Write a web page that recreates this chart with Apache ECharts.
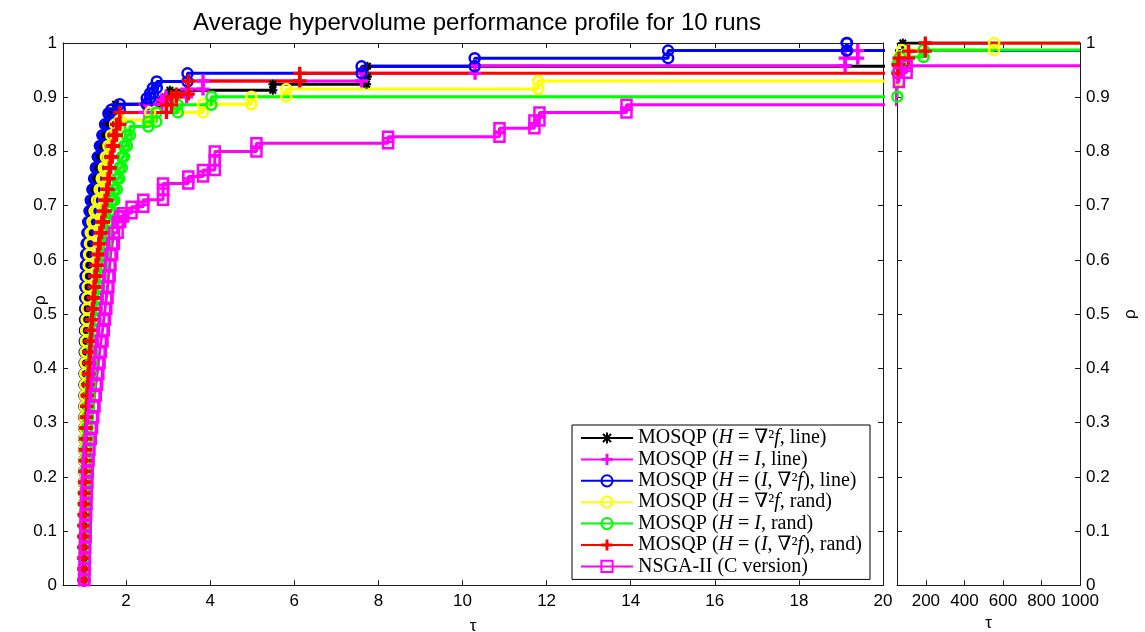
<!DOCTYPE html>
<html>
<head>
<meta charset="utf-8">
<script src="https://cdn.jsdelivr.net/npm/echarts@6/dist/echarts.min.js"></script>
<style>
  html, body { margin: 0; padding: 0; background: #fff; }
  #chart { width: 1145px; height: 632px; }
</style>
</head>
<body>
<div id="chart"></div>
<script>
// Performance profile: fraction of problems (rho) solved within a factor tau of the best.

// Step levels shared by the dense part of every profile (near tau = 1).
const rhoGrid = [0.01,0.03,0.05,0.07,0.09,0.11,0.13,0.15,0.17,0.19,0.21,0.23,0.25,0.27,0.29,0.31,0.33,0.35,0.37,0.39,0.41,0.43,0.45,0.47,0.49,0.51,0.53,0.55,0.57,0.59,0.61,0.63,0.65,0.67,0.69,0.71,0.73,0.75,0.77,0.79,0.81,0.83,0.85,0.87];

// tau at which each level of rhoGrid is reached (dense part), one list per solver.
const tauBlackLine = [1.00,1.00,1.00,1.00,1.00,1.00,1.00,1.00,1.00,1.00,
  1.005,1.005,1.005,1.01,1.01,1.01,1.01,1.015,1.015,1.015,
  1.02,1.02,1.02,1.02,1.02,1.025,1.025,1.03,1.03,1.035,
  1.04,1.05,1.07,1.09,1.11,1.14,1.17,1.21,1.25,1.29,
  1.34,1.40,1.47,1.56];
const tauMagentaLine = [1.00,1.00,1.00,1.00,1.00,1.00,1.005,1.01,1.01,1.015,
  1.02,1.025,1.03,1.035,1.04,1.05,1.06,1.07,1.085,1.10,
  1.12,1.135,1.15,1.165,1.18,1.20,1.22,1.24,1.26,1.29,
  1.32,1.35,1.38,1.42,1.46,1.50,1.54,1.57,1.60,1.63,
  1.67,1.71,1.77];
const tauBlueLine = [1.00,1.00,1.00,1.00,1.00,1.00,1.00,1.00,1.00,1.00,
  1.005,1.005,1.005,1.01,1.01,1.01,1.01,1.015,1.015,1.015,
  1.02,1.02,1.02,1.025,1.025,1.03,1.03,1.035,1.04,1.045,
  1.05,1.06,1.08,1.10,1.13,1.16,1.20,1.24,1.28,1.33,
  1.38,1.44,1.50,1.58];
const tauYellowRand = [1.00,1.00,1.00,1.00,1.00,1.00,1.00,1.00,1.005,1.005,
  1.01,1.01,1.01,1.015,1.015,1.02,1.02,1.025,1.03,1.03,
  1.035,1.04,1.045,1.05,1.06,1.07,1.08,1.09,1.10,1.11,
  1.12,1.14,1.16,1.20,1.25,1.31,1.37,1.42,1.47,1.52,
  1.58,1.65,1.74];
const tauGreenRand = [1.00,1.00,1.00,1.00,1.00,1.005,1.01,1.015,1.02,1.03,
  1.035,1.045,1.05,1.06,1.07,1.08,1.10,1.12,1.13,1.15,
  1.16,1.18,1.20,1.22,1.25,1.28,1.31,1.34,1.37,1.41,
  1.44,1.48,1.52,1.56,1.61,1.66,1.72,1.78,1.84,1.90,
  1.95,2.02];
const tauRedRand = [1.00,1.00,1.00,1.00,1.00,1.00,1.005,1.01,1.01,1.015,
  1.02,1.025,1.03,1.035,1.04,1.05,1.06,1.07,1.085,1.10,
  1.12,1.135,1.15,1.165,1.18,1.20,1.22,1.24,1.26,1.29,
  1.32,1.35,1.38,1.42,1.46,1.50,1.54,1.57,1.60,1.63,
  1.67,1.71,1.77];
const tauNsga = [1.00,1.01,1.02,1.02,1.03,1.04,1.04,1.05,1.06,1.07,
  1.08,1.09,1.11,1.13,1.16,1.19,1.22,1.25,1.28,1.31,
  1.34,1.37,1.40,1.44,1.47,1.50,1.53,1.56,1.58,1.61,
  1.63,1.67,1.71,1.80];

// Later steps as [tau, rho] pairs.
const tailBlackLine = [[1.75,0.887],[2.8,0.895],[2.93,0.901],[3.04,0.913],[5.49,0.924],[7.72,0.938],[7.74,0.957],[80,1.0]];
const tailMagentaLine = [[1.85,0.872],[2.45,0.887],[2.85,0.895],[2.95,0.901],[3.44,0.915],[3.83,0.93],[7.6,0.944],[10.3,0.958],[19.1,0.972],[19.4,0.986]];
const tailBlueLine = [[1.65,0.877],[1.85,0.887],[2.49,0.898],[2.57,0.907],[2.64,0.917],[2.73,0.929],[3.46,0.944],[7.6,0.957],[10.29,0.972],[14.89,0.986],[19.14,1.0],[19.14,0.986]];
const tailYellowRand = [[1.85,0.858],[2.57,0.872],[3.83,0.887],[4.98,0.901],[5.81,0.915],[11.8,0.930],[62,0.975],[76,0.987],[554,1.0]];
const tailGreenRand = [[2.09,0.846],[2.53,0.855],[2.72,0.872],[3.23,0.886],[4.03,0.901],[52,0.945],[54,0.961],[67,0.974],[188,0.987]];
const tailRedRand = [[1.85,0.872],[2.96,0.886],[3.08,0.901],[3.2,0.906],[3.48,0.930],[6.13,0.944],[55,0.96],[60,0.972],[110,0.985],[197,1.0]];
const tailNsga = [[1.86,0.68],[1.93,0.686],[2.13,0.698],[2.41,0.711],[2.88,0.729],[2.88,0.741],[3.48,0.754],[3.83,0.766],[4.11,0.784],[4.11,0.80],[5.1,0.815],[8.23,0.827],[10.88,0.843],[11.71,0.857],[11.83,0.872],[13.9,0.886],[45,0.928],[60,0.945],[100,0.958]];

const solverNames = [
  'MOSQP (H = ∇²f, line)',
  'MOSQP (H = I, line)',
  'MOSQP (H = (I, ∇²f), line)',
  'MOSQP (H = ∇²f, rand)',
  'MOSQP (H = I, rand)',
  'MOSQP (H = (I, ∇²f), rand)',
  'NSGA-II (C version)'
];

// Axis ticks
const xTicksLeft = [2,4,6,8,10,12,14,16,18,20];
const xTicksRight = [200,400,600,800,1000];

const TAU_END = 1000;

// Legend labels with italic math symbols
const legendRich = {
  'MOSQP (H = ∇²f, line)': 'MOSQP ({i|H} = ∇²{i|f}, line)',
  'MOSQP (H = I, line)': 'MOSQP ({i|H} = {i|I}, line)',
  'MOSQP (H = (I, ∇²f), line)': 'MOSQP ({i|H} = ({i|I}, ∇²{i|f}), line)',
  'MOSQP (H = ∇²f, rand)': 'MOSQP ({i|H} = ∇²{i|f}, rand)',
  'MOSQP (H = I, rand)': 'MOSQP ({i|H} = {i|I}, rand)',
  'MOSQP (H = (I, ∇²f), rand)': 'MOSQP ({i|H} = ({i|I}, ∇²{i|f}), rand)',
  'NSGA-II (C version)': 'NSGA-II (C version)'
};

const CLEAR = 'rgba(255,255,255,0)';
const PLUS = 'path://M37,0H63V37H100V63H63V100H37V63H0V37H37Z';
const STAR = 'path://M0,50L100,50M50,0L50,100M14,14L86,86M86,14L14,86';

const styles = [
  { color: '#000000', symbol: STAR, size: 9, fill: CLEAR, border: 2 },
  { color: '#ff00ff', symbol: PLUS, size: 13, fill: '#ff00ff', border: 0 },
  { color: '#0000ff', symbol: 'circle', size: 10, fill: CLEAR, border: 2.5 },
  { color: '#ffff00', symbol: 'circle', size: 10, fill: CLEAR, border: 2.5 },
  { color: '#00ff00', symbol: 'circle', size: 10, fill: CLEAR, border: 2.5 },
  { color: '#ff0000', symbol: PLUS, size: 13, fill: '#ff0000', border: 0 },
  { color: '#ff00ff', symbol: 'rect', size: 10, fill: CLEAR, border: 2.5 }
];

const denseLists = [tauBlackLine, tauMagentaLine, tauBlueLine, tauYellowRand, tauGreenRand, tauRedRand, tauNsga];
const tailLists = [tailBlackLine, tailMagentaLine, tailBlueLine, tailYellowRand, tailGreenRand, tailRedRand, tailNsga];

// Turn step breakpoints into the corner points of a staircase.
function staircase(denseTau, tail) {
  const bp = denseTau.map((t, i) => [t, rhoGrid[i]]).concat(tail);
  const pts = [{ value: bp[0] }];
  for (let i = 1; i < bp.length; i++) {
    pts.push({ value: [bp[i][0], bp[i - 1][1]] });
    pts.push({ value: [bp[i][0], bp[i][1]] });
  }
  pts.push({ value: [TAU_END, bp[bp.length - 1][1]], symbol: 'none' });
  return pts;
}

const stepData = denseLists.map((d, k) => staircase(d, tailLists[k]));

const series = [];
[0, 1].forEach(g => {
  solverNames.forEach((name, k) => {
    const s = styles[k];
    series.push({
      type: 'line',
      name: name,
      xAxisIndex: g * 2,
      yAxisIndex: g * 2,
      data: stepData[k],
      symbol: s.symbol,
      symbolSize: s.size,
      showSymbol: true,
      clip: true,
      lineStyle: { color: s.color, width: 3 },
      itemStyle: { color: s.fill, borderColor: s.color, borderWidth: s.border },
      emphasis: { disabled: true },
      silent: true
    });
  });
});

const FONT = 'Liberation Sans, Arial, sans-serif';
const SERIF = 'Liberation Serif, DejaVu Serif, serif';
const axisLine = { show: true, onZero: false, lineStyle: { color: '#1a1a1a', width: 1 } };

function xAxis(grid, pos, min, max, ticks, withLabels, gap) {
  return {
    type: 'value', gridIndex: grid, position: pos, min: min, max: max,
    axisLine: axisLine,
    axisTick: { show: true, inside: true, length: 5, customValues: ticks, lineStyle: { color: '#1a1a1a' } },
    axisLabel: withLabels ? { show: true, customValues: ticks, formatter: v => String(v), fontFamily: FONT, fontSize: 17, color: '#000', margin: 8 } : { show: false },
    splitLine: { show: false },
    name: withLabels ? 'τ' : '',
    nameLocation: 'middle',
    nameGap: gap || 30,
    nameMoveOverlap: false,
    nameTextStyle: { fontFamily: FONT, fontSize: 17, color: '#000' }
  };
}
function yAxis(grid, pos, withLabels, withName) {
  return {
    type: 'value', gridIndex: grid, position: pos, min: 0, max: 1, interval: 0.1,
    axisLine: axisLine,
    axisTick: { show: true, inside: true, length: 5, lineStyle: { color: '#1a1a1a' } },
    axisLabel: withLabels ? { show: true, fontFamily: FONT, fontSize: 17, color: '#000', margin: 6 } : { show: false },
    splitLine: { show: false },
    name: withName ? 'ρ' : '',
    nameLocation: 'middle',
    nameRotate: 90,
    nameGap: pos === 'left' ? 14 : 42,
    nameMoveOverlap: false,
    nameTextStyle: {
      fontFamily: FONT, fontSize: 17, color: '#000',
      padding: pos === 'left' ? [0, 0, 0, 28] : 0
    }
  };
}

const chart = echarts.init(document.getElementById('chart'), null, { renderer: 'canvas' });
chart.setOption({
  animation: false,
  backgroundColor: '#ffffff',
  title: {
    text: 'Average hypervolume performance profile for 10 runs',
    left: 472, top: 6, textAlign: 'center',
    textStyle: { fontFamily: FONT, fontSize: 24, fontWeight: 'normal', color: '#000' }
  },
  grid: [
    { left: 63, top: 43, width: 820, height: 542.3, outerBoundsMode: 'none' },
    { left: 897, top: 43, width: 183, height: 542.3, outerBoundsMode: 'none' }
  ],
  xAxis: [
    xAxis(0, 'bottom', 0.5, 20, xTicksLeft, true, 33),
    xAxis(0, 'top', 0.5, 20, xTicksLeft, false),
    xAxis(1, 'bottom', 50, 1000, xTicksRight, true, 30),
    xAxis(1, 'top', 50, 1000, xTicksRight, false)
  ],
  yAxis: [
    yAxis(0, 'left', true, true),
    yAxis(0, 'right', false, false),
    yAxis(1, 'left', false, false),
    yAxis(1, 'right', true, true)
  ],
  legend: {
    data: solverNames,
    orient: 'vertical',
    left: 572, top: 425,
    padding: [3, 8, 3, 8],
    itemWidth: 52, itemHeight: 14, itemGap: 1.4,
    selectedMode: false,
    backgroundColor: '#ffffff',
    borderColor: '#000000', borderWidth: 1, borderRadius: 0,
    formatter: name => legendRich[name],
    textStyle: {
      fontFamily: SERIF, fontSize: 20, color: '#000', lineHeight: 18,
      rich: { i: { fontFamily: SERIF, fontStyle: 'italic', fontSize: 20, color: '#000', lineHeight: 18 } }
    }
  },
  series: series
});
</script>
</body>
</html>
